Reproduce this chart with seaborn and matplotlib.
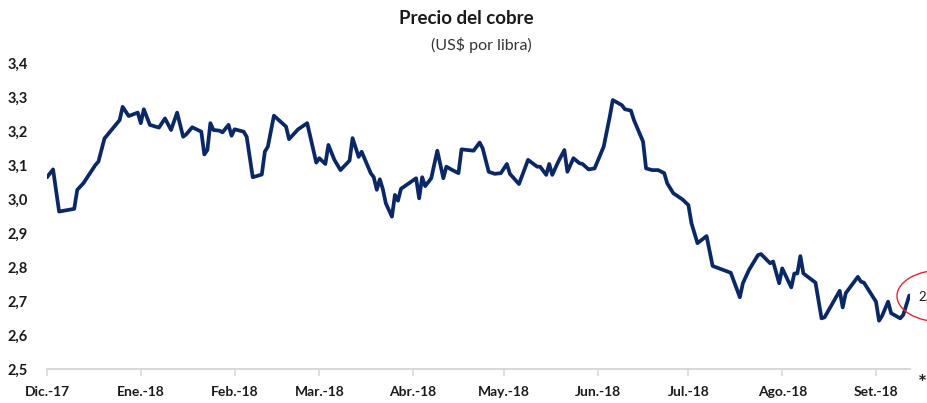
"""Precio del cobre (US$ por libra), Dic.-17 a Set.-18."""
import matplotlib
matplotlib.use("Agg")
import matplotlib.pyplot as plt
from matplotlib.patches import Ellipse
import pandas as pd
import seaborn as sns

# fechas y precios
fechas = [
    "2017-12-01", "2017-12-03", "2017-12-05", "2017-12-10", "2017-12-11", "2017-12-13",
    "2017-12-17", "2017-12-18", "2017-12-20", "2017-12-25", "2017-12-26", "2017-12-28",
    "2017-12-31", "2018-01-01", "2018-01-02", "2018-01-04", "2018-01-07", "2018-01-09",
    "2018-01-11", "2018-01-13", "2018-01-15", "2018-01-16", "2018-01-18", "2018-01-21",
    "2018-01-22", "2018-01-23", "2018-01-24", "2018-01-25", "2018-01-27", "2018-01-28",
    "2018-01-30", "2018-01-31", "2018-02-01", "2018-02-04", "2018-02-05", "2018-02-07",
    "2018-02-10", "2018-02-11", "2018-02-12", "2018-02-14", "2018-02-18", "2018-02-19",
    "2018-02-22", "2018-02-25", "2018-02-28", "2018-03-01", "2018-03-03", "2018-03-04",
    "2018-03-06", "2018-03-08", "2018-03-11", "2018-03-12", "2018-03-14", "2018-03-15",
    "2018-03-18", "2018-03-19", "2018-03-20", "2018-03-21", "2018-03-22", "2018-03-23",
    "2018-03-25", "2018-03-26", "2018-03-27", "2018-03-28", "2018-04-02", "2018-04-03",
    "2018-04-04", "2018-04-05", "2018-04-07", "2018-04-09", "2018-04-11", "2018-04-12",
    "2018-04-14", "2018-04-16", "2018-04-17", "2018-04-21", "2018-04-23", "2018-04-24",
    "2018-04-26", "2018-04-28", "2018-04-30", "2018-05-02", "2018-05-03", "2018-05-06",
    "2018-05-09", "2018-05-12", "2018-05-13", "2018-05-15", "2018-05-16", "2018-05-17",
    "2018-05-19", "2018-05-21", "2018-05-22", "2018-05-24", "2018-05-26", "2018-05-27",
    "2018-05-29", "2018-05-31", "2018-06-03", "2018-06-05", "2018-06-06", "2018-06-09",
    "2018-06-10", "2018-06-12", "2018-06-13", "2018-06-16", "2018-06-17", "2018-06-19",
    "2018-06-21", "2018-06-23", "2018-06-24", "2018-06-26", "2018-06-29", "2018-07-01",
    "2018-07-02", "2018-07-04", "2018-07-07", "2018-07-09", "2018-07-15", "2018-07-18",
    "2018-07-19", "2018-07-21", "2018-07-24", "2018-07-25", "2018-07-28", "2018-07-29",
    "2018-07-31", "2018-08-01", "2018-08-04", "2018-08-05", "2018-08-06", "2018-08-07",
    "2018-08-08", "2018-08-12", "2018-08-14", "2018-08-15", "2018-08-20", "2018-08-21",
    "2018-08-22", "2018-08-26", "2018-08-27", "2018-08-28", "2018-09-01", "2018-09-02",
    "2018-09-03", "2018-09-05", "2018-09-06", "2018-09-09", "2018-09-10", "2018-09-12",
]
precios = [
    3.064, 3.087, 2.963, 2.971, 3.027, 3.046,
    3.100, 3.110, 3.178, 3.232, 3.271, 3.244,
    3.254, 3.223, 3.264, 3.218, 3.210, 3.237,
    3.203, 3.254, 3.183, 3.190, 3.211, 3.198,
    3.131, 3.144, 3.223, 3.203, 3.201, 3.196,
    3.218, 3.186, 3.205, 3.198, 3.183, 3.064,
    3.072, 3.139, 3.154, 3.245, 3.213, 3.176,
    3.205, 3.223, 3.107, 3.120, 3.103, 3.159,
    3.115, 3.085, 3.113, 3.179, 3.124, 3.139,
    3.076, 3.064, 3.027, 3.058, 3.029, 2.987,
    2.948, 3.012, 2.995, 3.030, 3.061, 3.002,
    3.064, 3.038, 3.061, 3.142, 3.061, 3.095,
    3.085, 3.076, 3.146, 3.142, 3.166, 3.149,
    3.080, 3.074, 3.076, 3.103, 3.074, 3.044,
    3.115, 3.095, 3.095, 3.071, 3.103, 3.071,
    3.110, 3.144, 3.080, 3.120, 3.105, 3.103,
    3.087, 3.090, 3.154, 3.242, 3.291, 3.276,
    3.264, 3.260, 3.232, 3.169, 3.090, 3.085,
    3.085, 3.076, 3.046, 3.017, 2.999, 2.982,
    2.929, 2.870, 2.891, 2.803, 2.783, 2.711,
    2.752, 2.791, 2.835, 2.838, 2.811, 2.816,
    2.752, 2.796, 2.740, 2.781, 2.781, 2.832,
    2.781, 2.754, 2.649, 2.652, 2.730, 2.681,
    2.723, 2.771, 2.757, 2.754, 2.698, 2.642,
    2.656, 2.698, 2.664, 2.649, 2.659, 2.716,
]
meses = ["Dic.-17", "Ene.-18", "Feb.-18", "Mar.-18", "Abr.-18",
         "May.-18", "Jun.-18", "Jul.-18", "Ago.-18", "Set.-18"]
y_ticks = [2.5, 2.6, 2.7, 2.8, 2.9, 3.0, 3.1, 3.2, 3.3, 3.4]

df = pd.DataFrame({"fecha": pd.to_datetime(fechas), "precio": precios})

sns.set_style("white")
plt.rcParams["font.family"] = ["Lato", "DejaVu Sans"]

fig = plt.figure(figsize=(9.27, 4.03), dpi=100)
ax = fig.add_axes([0.0507, 0.0844, 0.931, 0.7593])

sns.lineplot(data=df, x="fecha", y="precio", ax=ax, color="#0b2866",
             linewidth=2.7, solid_joinstyle="round")

ax.set_ylim(2.5, 3.4)
ax.set_xlim(pd.Timestamp("2017-12-01"), pd.Timestamp("2018-09-12 06:00"))
ax.set_yticks(y_ticks)
ax.set_yticklabels([f"{v:.1f}".replace(".", ",") for v in y_ticks],
                   fontweight="bold", fontsize=10.5, color="#1a1a1a")
ax.set_xticks(pd.date_range("2017-12-01", periods=len(meses), freq="MS"))
ax.set_xticklabels(meses, fontweight="bold", fontsize=10, color="#1a1a1a")
ax.set_xlabel("")
ax.set_ylabel("")

for side in ["top", "right", "left"]:
    ax.spines[side].set_visible(False)
ax.spines["bottom"].set_color("#d9d9d9")
ax.spines["bottom"].set_linewidth(1.5)
ax.tick_params(axis="y", length=0, pad=14)
ax.tick_params(axis="x", length=5, width=1.2, color="#d9d9d9", pad=7,
               direction="out", bottom=True)

fig.text(0.503, 0.953, "Precio del cobre", ha="center", va="center",
         fontsize=13.5, fontweight="bold", color="#1a1a1a")
fig.text(0.519, 0.888, "(US$ por libra)", ha="center", va="center",
         fontsize=11.5, color="#333333")

# marca en rojo recortada en el borde derecho
fig.patches.append(Ellipse((942 / 927, 1 - 296 / 403), 90 / 927, 52 / 403,
                           transform=fig.transFigure, fill=False,
                           edgecolor="#e8242a", linewidth=1.0))
fig.text(918 / 927, 1 - 296 / 403, "2,71", ha="left", va="center",
         fontsize=9.5, color="#1a1a1a")
fig.text(922 / 927, 1 - 384 / 403, "*", ha="center", va="center",
         fontsize=15, fontweight="bold", color="#1a1a1a")

fig.savefig("out.png", dpi=100)
plt.close(fig)
